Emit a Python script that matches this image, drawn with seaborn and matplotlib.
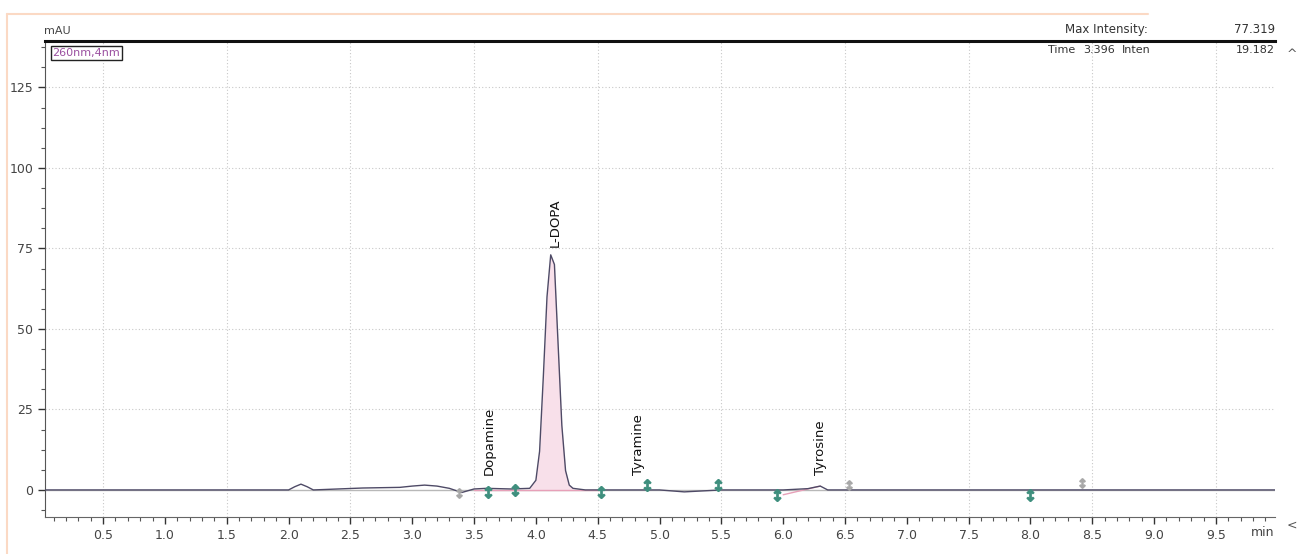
import matplotlib
matplotlib.use("Agg")
import matplotlib.pyplot as plt
import seaborn as sns
import pandas as pd
from matplotlib.ticker import AutoMinorLocator

# chromatogram trace (min, mAU)
rt = [0.0, 2.0, 2.05, 2.1, 2.15, 2.2, 2.6, 2.9, 3.0, 3.1, 3.2, 3.3, 3.4, 3.5,
      3.6, 3.8, 3.95, 4.0, 4.03, 4.06, 4.09, 4.12, 4.15, 4.18, 4.21, 4.24,
      4.27, 4.3, 4.4, 4.6, 5.0, 5.2, 5.3, 5.5, 6.0, 6.2, 6.3, 6.36, 8.0, 10.0]
signal = [0, 0, 1.0, 1.8, 1.0, 0, 0.6, 0.8, 1.2, 1.5, 1.2, 0.5, -0.8, 0.3,
          0.5, 0.3, 0.5, 3, 12, 35, 60, 73, 70, 45, 20, 6,
          1.5, 0.5, 0, 0, 0, -0.6, -0.4, 0, 0, 0.4, 1.2, 0, 0, 0]

# peak names and where their labels sit
peak_names = ["Dopamine", "L-DOPA", "Tyramine", "Tyrosine"]
peak_rt = [3.62, 4.16, 4.83, 6.3]
peak_label_y = [3.0, 74.0, 3.0, 3.0]

# peak start/end marks
mark_rt = [3.61, 3.83, 4.53, 4.9, 5.47, 5.95, 8.0]
mark_y = [-0.5, 0.0, -0.5, 1.5, 1.5, -1.5, -1.5]
faint_rt = [3.38, 6.53, 8.42]
faint_y = [-1.0, 1.5, 2.0]

x_ticks = [0.5, 1.0, 1.5, 2.0, 2.5, 3.0, 3.5, 4.0, 4.5, 5.0, 5.5, 6.0, 6.5,
           7.0, 7.5, 8.0, 8.5, 9.0, 9.5]
y_ticks = [0, 25, 50, 75, 100, 125]

sns.set_style("white")
plt.rcParams["font.family"] = ["DejaVu Sans"]

df = pd.DataFrame({"rt": rt, "signal": signal})

fig = plt.figure(figsize=(13.04, 5.54), dpi=100)
ax = fig.add_axes([0.0345, 0.0668, 0.9435, 0.8592])

# grid
for y in [25, 50, 75, 100, 125]:
    ax.axhline(y, color="#c8c8c8", lw=0.8, ls=(0, (1, 2)), zorder=0)
for x in [0.5, 1.5, 2.5, 3.5, 4.5, 5.5, 6.5, 7.5, 8.5, 9.5]:
    ax.axvline(x, color="#c8c8c8", lw=0.8, ls=(0, (1, 2)), zorder=0)
ax.axhline(0, color="#b8b8b8", lw=1.0, zorder=1)

# integrated peak area
pk = df[(df.rt >= 3.95) & (df.rt <= 4.3)]
ax.fill_between(pk.rt, 0, pk.signal, color="#f8e0ea", lw=0, zorder=1)
ax.plot([3.5, 4.5], [0, 0], color="#e7a0b8", lw=1.0, zorder=2)
ax.plot([6.0, 6.3], [-1.5, 1.2], color="#e7a0b8", lw=1.0, zorder=2)

sns.lineplot(data=df, x="rt", y="signal", ax=ax, color="#4e4a66", lw=1.0,
             zorder=3)

ax.scatter(mark_rt, mark_y, marker=r"$\updownarrow$", s=70, color="#3f8f7e",
           zorder=4)
ax.scatter(faint_rt, faint_y, marker=r"$\updownarrow$", s=45, color="#a8a8a8",
           zorder=4)

for name, x, y in zip(peak_names, peak_rt, peak_label_y):
    ax.text(x, y + 1.5, name, rotation=90, ha="center", va="bottom",
            fontsize=9.5, color="#111111")

ax.set_xlim(0.03, 9.98)
ax.set_ylim(-8.4, 139.4)
ax.set_xticks(x_ticks)
ax.set_xticklabels([f"{v:.1f}" for v in x_ticks])
ax.set_yticks(y_ticks)
ax.xaxis.set_minor_locator(AutoMinorLocator(5))
ax.yaxis.set_minor_locator(AutoMinorLocator(4))
ax.tick_params(axis="both", which="major", direction="out", length=5,
               width=1, color="#333333", labelsize=9, labelcolor="#444444",
               bottom=True, left=True)
ax.tick_params(axis="both", which="minor", direction="out", length=3,
               width=0.8, color="#555555", bottom=True, left=True)
ax.set_xlabel("")
ax.set_ylabel("")

ax.spines["right"].set_visible(False)
ax.spines["top"].set_linewidth(2.2)
ax.spines["top"].set_color("#111111")
ax.spines["left"].set_color("#555555")
ax.spines["bottom"].set_color("#666666")

# texts round the plot
ax.text(-0.001, 1.01, "mAU", transform=ax.transAxes, fontsize=8,
        color="#444444", ha="left", va="bottom")
ax.text(0.006, 0.985, "260nm,4nm", transform=ax.transAxes, fontsize=8,
        color="#9a4fa0", ha="left", va="top",
        bbox=dict(boxstyle="square,pad=0.15", fc="white", ec="#222222",
                  lw=1.0))
ax.text(9.97, -13.2, "min", fontsize=9, color="#444444", ha="right",
        va="center", clip_on=False)
fig.text(0.817, 0.935, "Max Intensity:", fontsize=8.5, color="#333333",
         ha="left", va="bottom")
fig.text(0.978, 0.935, "77.319", fontsize=8.5, color="#333333",
         ha="right", va="bottom")
fig.text(0.804, 0.900, "Time", fontsize=8, color="#333333", ha="left",
         va="bottom")
fig.text(0.831, 0.900, "3.396", fontsize=8, color="#333333", ha="left",
         va="bottom")
fig.text(0.860, 0.900, "Inten", fontsize=8, color="#333333", ha="left",
         va="bottom")
fig.text(0.978, 0.900, "19.182", fontsize=8, color="#333333",
         ha="right", va="bottom")

# screenshot frame
fig.add_artist(plt.Line2D([0.005, 0.88], [0.975, 0.975], color="#fbd9c4",
                          lw=1.5))
fig.add_artist(plt.Line2D([0.005, 0.005], [0.0, 0.975], color="#fbd9c4",
                          lw=1.5))
fig.text(0.991, 0.895, "^", fontsize=9, color="#555555", ha="center")
fig.text(0.991, 0.045, "<", fontsize=9, color="#555555", ha="center")

fig.savefig("out.png", dpi=100, facecolor="white")
